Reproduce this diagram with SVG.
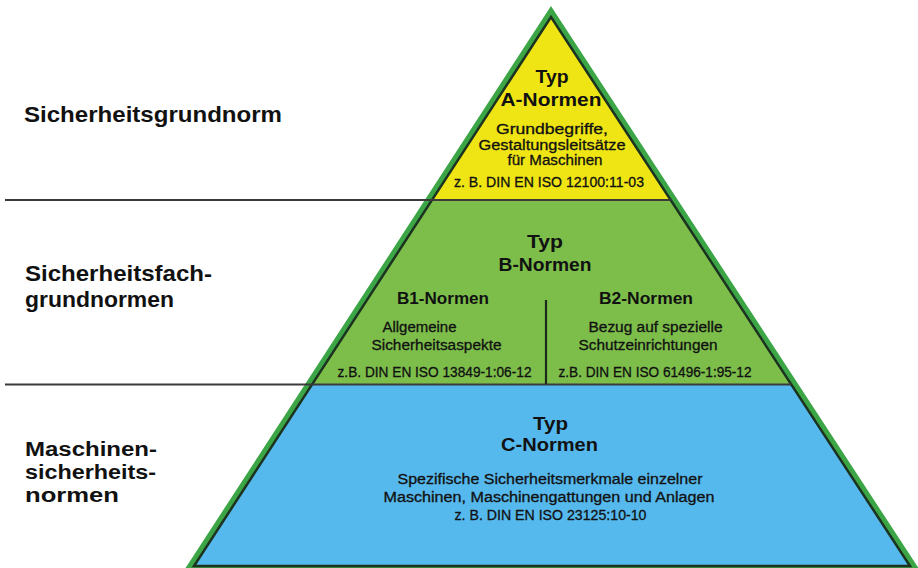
<svg xmlns="http://www.w3.org/2000/svg" width="918" height="568" viewBox="0 0 918 568">
  <style>
    text { font-family: "Liberation Sans", Arial, sans-serif; fill: #111; }
    .lbl { font-size: 22px; font-weight: bold; }
    .lbl2 { font-size: 20px; font-weight: bold; }
    .hd { font-size: 19px; font-weight: bold; text-anchor: middle; }
    .sub { font-size: 16px; font-weight: bold; text-anchor: middle; }
    .sm { font-size: 14px; text-anchor: middle; stroke: #111; stroke-width: 0.3; }
    .edge { fill: none; stroke: #3CA546; stroke-width: 12; stroke-linejoin: miter; }
    .inner { fill: none; stroke: #1C3320; stroke-width: 2.5; stroke-linejoin: miter; }
    .rule { stroke: #3a3a3a; stroke-width: 2.2; fill: none; }
    .split { stroke: #1C2A1C; stroke-width: 2.2; }
  </style>
  <rect width="918" height="568" fill="#ffffff"/>

  <polygon class="edge" points="551,17 910,566 194,566"/>

  <g id="tier-a">
    <polygon points="551,17 670.7,200 432,200" fill="#F0E514"/>
    <text class="hd" x="552" y="83" textLength="33" lengthAdjust="spacingAndGlyphs">Typ</text>
    <text class="hd" x="551" y="106" textLength="101" lengthAdjust="spacingAndGlyphs">A-Normen</text>
    <text class="sm" x="552" y="134" textLength="112" lengthAdjust="spacingAndGlyphs">Grundbegriffe,</text>
    <text class="sm" x="552" y="150" textLength="147" lengthAdjust="spacingAndGlyphs">Gestaltungsleitsätze</text>
    <text class="sm" x="555" y="165" textLength="95" lengthAdjust="spacingAndGlyphs">für Maschinen</text>
    <text class="sm" x="549" y="187" textLength="190" lengthAdjust="spacingAndGlyphs">z. B. DIN EN ISO 12100:11-03</text>
  </g>

  <g id="tier-b">
    <polygon points="432,200 670.7,200 791,384 312.5,384" fill="#7DBE4B"/>
    <text class="hd" x="545" y="248" textLength="36" lengthAdjust="spacingAndGlyphs">Typ</text>
    <text class="hd" x="545" y="271" textLength="93" lengthAdjust="spacingAndGlyphs">B-Normen</text>
    <g id="b1">
      <text class="sub" x="443" y="304" textLength="92" lengthAdjust="spacingAndGlyphs">B1-Normen</text>
      <text class="sm" x="419.5" y="332" textLength="74" lengthAdjust="spacingAndGlyphs">Allgemeine</text>
      <text class="sm" x="436.5" y="350" textLength="130" lengthAdjust="spacingAndGlyphs">Sicherheitsaspekte</text>
      <text class="sm" x="434.5" y="377" textLength="194" lengthAdjust="spacingAndGlyphs">z.B. DIN EN ISO 13849-1:06-12</text>
    </g>
    <g id="b2">
      <text class="sub" x="646" y="304" textLength="94" lengthAdjust="spacingAndGlyphs">B2-Normen</text>
      <text class="sm" x="655.5" y="332" textLength="134" lengthAdjust="spacingAndGlyphs">Bezug auf spezielle</text>
      <text class="sm" x="648" y="350" textLength="139" lengthAdjust="spacingAndGlyphs">Schutzeinrichtungen</text>
      <text class="sm" x="655" y="377" textLength="193" lengthAdjust="spacingAndGlyphs">z.B. DIN EN ISO 61496-1:95-12</text>
    </g>
  </g>

  <g id="tier-c">
    <polygon points="312.5,384 791,384 910,566 194,566" fill="#56B9EE"/>
    <text class="hd" x="550.5" y="430" textLength="35" lengthAdjust="spacingAndGlyphs">Typ</text>
    <text class="hd" x="549.5" y="451" textLength="97" lengthAdjust="spacingAndGlyphs">C-Normen</text>
    <text class="sm" x="550" y="484" textLength="305" lengthAdjust="spacingAndGlyphs">Spezifische Sicherheitsmerkmale einzelner</text>
    <text class="sm" x="549" y="502" textLength="331" lengthAdjust="spacingAndGlyphs">Maschinen, Maschinengattungen und Anlagen</text>
    <text class="sm" x="550.5" y="520" textLength="192" lengthAdjust="spacingAndGlyphs">z. B. DIN EN ISO 23125:10-10</text>
  </g>

  <polygon class="inner" points="551,17 910,566 194,566"/>

  <g id="connectors">
    <line class="rule" x1="5" y1="200" x2="670.7" y2="200"/>
    <line class="rule" x1="5" y1="384.5" x2="791" y2="384.5"/>
    <line class="split" x1="546" y1="300" x2="546" y2="384"/>
  </g>

  <g id="label-a">
    <text class="lbl" x="24" y="122" textLength="258" lengthAdjust="spacingAndGlyphs">Sicherheitsgrundnorm</text>
  </g>
  <g id="label-b">
    <text class="lbl" x="25" y="281" textLength="187" lengthAdjust="spacingAndGlyphs">Sicherheitsfach-</text>
    <text class="lbl" x="25" y="307" textLength="149" lengthAdjust="spacingAndGlyphs">grundnormen</text>
  </g>
  <g id="label-c">
    <text class="lbl2" x="25" y="456" textLength="132" lengthAdjust="spacingAndGlyphs">Maschinen-</text>
    <text class="lbl2" x="25" y="479" textLength="131" lengthAdjust="spacingAndGlyphs">sicherheits-</text>
    <text class="lbl2" x="25" y="502" textLength="94" lengthAdjust="spacingAndGlyphs">normen</text>
  </g>
</svg>
